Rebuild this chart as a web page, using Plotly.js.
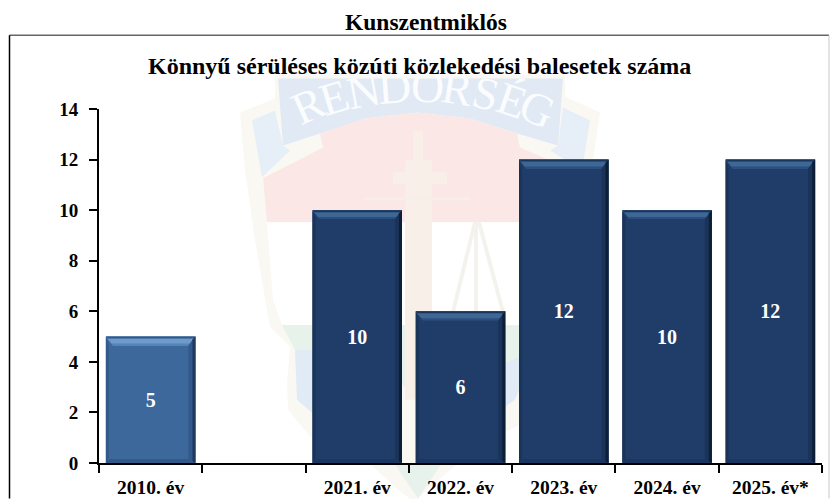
<!DOCTYPE html>
<html><head><meta charset="utf-8">
<script src="https://cdn.plot.ly/plotly-3.0.1.min.js"></script>
<style>html,body{margin:0;padding:0;background:#fff}#c{width:830px;height:499px}</style></head>
<body><div id="c"></div>
<script>
const categories=["2010. év"," ","2021. év","2022. év","2023. év","2024. év","2025. év*"];
const values=[5,null,10,6,12,10,12];
const labels=["5","","10","6","12","10","12"];
const barColors=["#3c689c","#1f3d68","#1f3d68","#1f3d68","#1f3d68","#1f3d68","#1f3d68"];
const topBevel=["#6f9bcb","#3f6796","#3f6796","#3f6796","#3f6796","#3f6796","#3f6796"];
const topSoft=["#5484b8","#2c4e7c","#2c4e7c","#2c4e7c","#2c4e7c","#2c4e7c","#2c4e7c"];
const topEdge=["#2f5788","#1a3559","#1a3559","#1a3559","#1a3559","#1a3559","#1a3559"];
const sideDark=["#1f3a5e","#0d1f38","#0d1f38","#0d1f38","#0d1f38","#0d1f38","#0d1f38"];
const sideMid=["#33598a","#1a3358","#1a3358","#1a3358","#1a3358","#1a3358","#1a3358"];
const bottomBevel=["#33598a","#1b3660","#1b3660","#1b3660","#1b3660","#1b3660","#1b3660"];
const W=830,H=499,L=99,R=822,T=108.5,B=463.5;
const px=x=>x/((R-L)/7), py=y=>y*14/(B-T);
const fx=x=>(x-L)/(R-L), fy=y=>(B-y)/(B-T);
const barW=0.867;
function poly(pts,color){
  return {type:'path',xref:'paper',yref:'paper',layer:'below',
    path:'M'+pts.map(p=>fx(p[0])+','+fy(p[1])).join('L')+'Z',fillcolor:color,line:{width:0}};
}
function dpoly(pts,color){
  return {type:'path',xref:'x',yref:'y',layer:'above',path:'M'+pts.map(p=>p[0]+','+p[1]).join('L')+'Z',fillcolor:color,line:{width:0}};
}
const shapes=[];
// faint crest behind the chart
shapes.push(poly([[240,112],[275,98],[275,74],[565,74],[565,96],[600,112],[590,180],[578,240],[562,320],[548,345],[535,380],[530,420],[480,445],[425,492],[415,503],[400,492],[360,455],[310,437],[288,410],[287,383],[290,347],[270,327],[255,240],[245,170]],"#faf8f3"));
shapes.push(poly([[252,120],[275,110],[283,145],[290,150],[262,177]],"#e6eef7"));
shapes.push(poly([[590,120],[563,107],[558,145],[550,150],[582,170]],"#e6eef7"));
shapes.push(poly([[278,78],[563,78],[558,145],[517,133],[470,118],[417,112],[365,118],[320,133],[283,145]],"#e0e9f4"));
shapes.push(poly([[320,133],[365,118],[417,112],[470,118],[517,133],[520,147],[580,173],[575,222],[267,222],[263,178],[323,147]],"#fbe8e6"));
shapes.push(poly([[267,222],[575,222],[563,325],[282,325],[273,300]],"#ffffff"));
shapes.push(poly([[282,325],[563,325],[548,345],[520,360],[470,395],[418,395],[360,360],[295,350]],"#e6f2ea"));
shapes.push(poly([[295,350],[345,352],[395,395],[395,420],[345,412],[312,413],[297,400]],"#e0ebf5"));
shapes.push(poly([[440,390],[520,357],[530,365],[515,400],[480,425],[440,420]],"#e0ebf5"));
shapes.push(poly([[395,465],[441,465],[418,499]],"#e8f2ec"));
shapes.push(poly([[413,130],[423,130],[423,160],[432,160],[432,172],[447,172],[447,184],[432,184],[432,400],[405,400],[405,184],[393,184],[393,172],[405,172],[405,160],[413,160]],"#f8efe8"));
shapes.push(poly([[363,197],[470,197],[470,200],[363,200]],"#f6efe8"));
shapes.push(poly([[473,222],[477,222],[455,312],[451,312]],"#f3f2ec"));
shapes.push(poly([[477,222],[481,222],[505,312],[501,312]],"#f3f2ec"));
shapes.push(poly([[474,222],[478,222],[478,312],[474,312]],"#f3f2ec"));
// bevels, from the data values
values.forEach((v,i)=>{
  if(v==null) return;
  const a=i-barW/2,b=i+barW/2,e=px(7),t=py(9),bo=py(4);
  shapes.push(dpoly([[a,v],[b,v],[b-e,v-t],[a+e,v-t]],topBevel[i]));
  shapes.push(dpoly([[a,v],[b,v],[b-px(2),v-py(2)],[a+px(2),v-py(2)]],topEdge[i]));
  shapes.push(dpoly([[a+px(5),v-py(7)],[b-px(5),v-py(7)],[b-e,v-t],[a+e,v-t]],topSoft[i]));
  shapes.push(dpoly([[b,v],[b,0],[b-e,bo],[b-e,v-t]],sideMid[i]));
  shapes.push(dpoly([[b,v],[b,0],[b-px(3),py(1)],[b-px(3),v-py(3)]],sideDark[i]));
  shapes.push(dpoly([[a,v],[a,0],[a+px(3),bo],[a+px(3),v-t]],sideMid[i]));
  shapes.push(dpoly([[a,0],[b,0],[b-e,bo],[a+px(4),bo]],bottomBevel[i]));
});
// outer frame
shapes.push({type:'line',xref:'paper',yref:'paper',layer:'above',x0:fx(9.5),x1:fx(829),y0:fy(34.5),y1:fy(34.5),line:{color:'#666666',width:1.5}});
shapes.push({type:'line',xref:'paper',yref:'paper',layer:'above',x0:fx(9.5),x1:fx(9.5),y0:fy(34.5),y1:fy(499),line:{color:'#000000',width:1.5}});
shapes.push({type:'line',xref:'paper',yref:'paper',layer:'above',x0:fx(829),x1:fx(829),y0:fy(34.5),y1:fy(499),line:{color:'#c8c8c8',width:1}});
const font='"Liberation Serif","Times New Roman",serif';
const crest=[["R",308,105,-24],["E",334,97,-17],["N",363,91,-10],["D",394,87,-4],["Ő",427,86,3],["R",457,88,9],["S",486,93,14],["É",512,100,19],["G",537,108,24]];
const annotations=crest.map(c=>({text:c[0],x:fx(c[1]),y:fy(c[2]),xref:'paper',yref:'paper',xanchor:'center',yanchor:'middle',showarrow:false,textangle:c[3],font:{family:font,size:46,color:'#fafcfe'}})).concat([
 {text:"<b>Kunszentmiklós</b>",x:fx(426),y:fy(21),xref:'paper',yref:'paper',showarrow:false,xanchor:'center',yanchor:'middle',font:{family:font,size:23.5,color:'#000'}},
 {text:"<b>Könnyű sérüléses közúti közlekedési balesetek száma</b>",x:fx(419),y:fy(65),xref:'paper',yref:'paper',showarrow:false,xanchor:'center',yanchor:'middle',font:{family:font,size:24,color:'#000'}}
]);
Plotly.newPlot('c',[{type:'bar',x:categories,y:values,width:barW,text:labels,textposition:'inside',insidetextanchor:'middle',textangle:0,
  insidetextfont:{family:font,size:20,color:'#ffffff'},texttemplate:'<b>%{text}</b>',
  marker:{color:barColors,line:{width:0}},cliponaxis:false,hoverinfo:'skip'}],
{width:W,height:H,margin:{l:L,r:W-R,t:T,b:H-B,pad:0},paper_bgcolor:'#fff',plot_bgcolor:'rgba(0,0,0,0)',showlegend:false,
 xaxis:{type:'category',categoryorder:'array',categoryarray:categories,tickson:'boundaries',ticks:'outside',ticklen:8,tickwidth:2,tickcolor:'#000',
   showline:true,linecolor:'#000',linewidth:2,showgrid:false,zeroline:false,tickfont:{family:font,size:19.5,color:'#000',weight:700},fixedrange:true,ticklabelstandoff:6},
 yaxis:{range:[0,14],tickmode:'array',tickvals:[0,2,4,6,8,10,12,14],ticks:'outside',ticklen:8,tickwidth:2,tickcolor:'#000',
   showline:true,linecolor:'#000',linewidth:2,showgrid:false,zeroline:false,tickfont:{family:font,size:19,color:'#000',weight:700},fixedrange:true,ticklabelstandoff:7},
 shapes:shapes,annotations:annotations},{displayModeBar:false,staticPlot:true});
</script></body></html>
